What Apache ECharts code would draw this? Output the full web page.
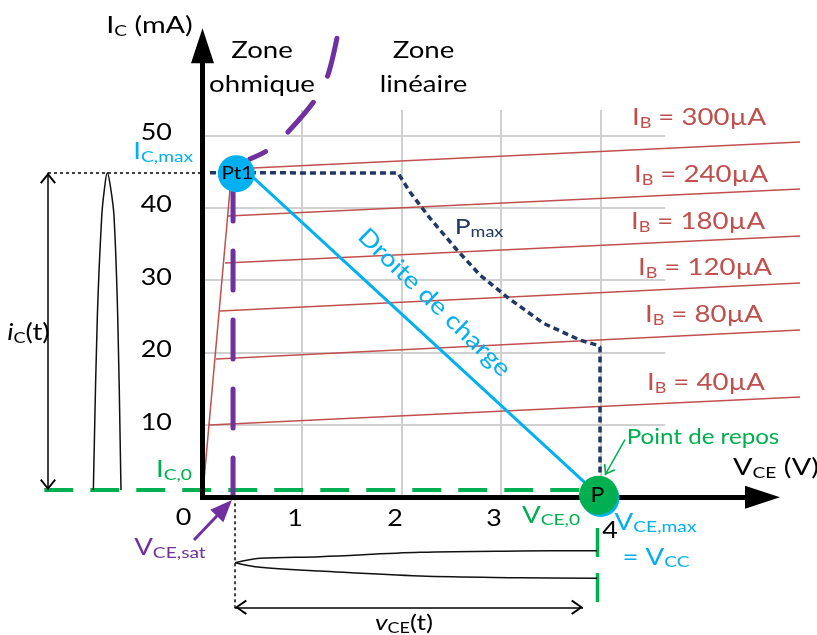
<!DOCTYPE html>
<html><head><meta charset="utf-8">
<script src="https://cdn.jsdelivr.net/npm/echarts@6/dist/echarts.min.js"></script>
<style>html,body{margin:0;padding:0;background:#fff}#c{width:817px;height:635px}</style>
</head><body><div id="c"></div>
<script>
// ================= DATA =================
// axis ticks (V and mA)
const xTicks = [0, 1, 2, 3, 4];
const xTickLabels = ['0', '1', '2', '3', '4'];
const yTicks = [10, 20, 30, 40, 50];
const yTickLabels = ['10', '20', '30', '40', '50'];
const gridXTop = 53.5;     // top of the vertical grid lines (mA)
const gridYRight = 4.65;   // right end of the horizontal grid lines (V)

// output characteristics IC = f(VCE) for each IB
const ibNames = ['300µA', '240µA', '180µA', '120µA', '80µA', '40µA'];
const ib300 = [[0.296, 45.35], [6.005, 49.07]];
const ib240 = [[0.256, 38.85], [6.005, 42.58]];
const ib180 = [[0.226, 32.36], [6.005, 36.09]];
const ib120 = [[0.176, 25.73], [6.005, 29.60]];
const ib80  = [[0.136, 19.10], [6.005, 23.11]];
const ib40  = [[0.065, 9.99],  [6.005, 13.85]];
const ohmicRamp = [[0, 0], [0.296, 45.48]];

// load line, operating points
const pt1 = [0.34, 44.7];
const quiescent = [3.98, 0.3];
const vceMaxPoint = [4.0, -0.1];
const loadLine = [[0.35, 46.2], [3.98, 0.3]];

// maximum power curve
const pmaxCurve = [[0.075, 44.83], [1.965, 44.79], [2.085, 42.17], [2.286, 38.56], [2.558, 34.16],
  [2.789, 30.70], [3.060, 27.67], [3.422, 24.07], [3.794, 21.72], [3.965, 21.03], [3.995, 20.75], [3.995, 3.36]];

// saturation / ohmic boundary (vertical part, then curved part)
const satVertical = [[0.307, 0.04], [0.307, 43.14]];
const satCurve = [[0.477, 46.73], [0.658, 47.97], [0.859, 50.46], [1.131, 54.88], [1.261, 58.34], [1.362, 64.14]];

// levels
const ic0 = 1.0;
const icMax = 44.83;
const vceSat = 0.327;
const vceMax = 3.97;

// collector current waveform ic(t) (drawn left of the axis)
const icSpike = [[-1.097, 1.01], [-1.057, 24.94], [-1.013, 38.76], [-0.987, 42.44], [-0.957, 44.83],
  [-0.920, 42.44], [-0.889, 38.76], [-0.852, 24.94], [-0.819, 1.01]];
// collector-emitter voltage waveform vce(t) (drawn below the axis)
const vceUpper = [[0.327, -9.03], [0.578, -8.43], [1.181, -8.20], [2.186, -7.60], [3.191, -7.42], [3.965, -7.38]];
const vceLower = [[0.327, -9.03], [0.578, -9.67], [1.181, -10.18], [2.186, -10.87], [3.191, -11.10], [3.965, -11.19]];

// ================= STYLE =================
const FONT = 'Lato';
const BLACK = '#000000', CYAN = '#00B0F0', GREEN = '#00B050', PURPLE = '#7030A0',
      RED = '#C0504D', NAVY = '#1F3864', GRID = '#D0D0D0';
const CHEVRON = 'path://M0,12 L10,0 L20,12 L18,13.6 L10,3.6 L2,13.6 Z';

function rich(color, f, sf) {
  const L = Math.round(f * 1.12);
  const h = L - 2 * Math.round(0.3 * f);
  return {
    m: { fontFamily: FONT, fontSize: f, fill: color, lineHeight: L },
    i: { fontFamily: FONT, fontSize: f, fill: color, lineHeight: L, fontStyle: 'italic' },
    s: { fontFamily: FONT, fontSize: sf, fill: color, lineHeight: h, verticalAlign: 'bottom' }
  };
}

// text annotations (anchor in data units, optional pixel offset)
const ibLabelPos = [[4.99, 52.39], [5.01, 44.52], [4.98, 38.02], [5.05, 31.67], [5.04, 25.18], [5.06, 15.79]];
const texts = [];
texts.push({ x: -0.533, y: 65.2, t: '{m|I}{s|C}{m| (mA)}', c: BLACK, f: 24, sf: 16 });
texts.push({ x: 0.598, y: 59.3, plain: 'Zone\nohmique', c: BLACK, f: 23, lh: 34 });
texts.push({ x: 2.221, y: 59.3, plain: 'Zone\nlinéaire', c: BLACK, f: 23, lh: 34 });
ibNames.forEach((n, k) => texts.push({ x: ibLabelPos[k][0], y: ibLabelPos[k][1], t: '{m|I}{s|B}{m| = ' + n + '}', c: RED, f: 23, sf: 15 }));
texts.push({ x: 2.779, y: 37.33, t: '{m|P}{s|max}', c: NAVY, f: 22, sf: 15 });
texts.push({ x: 2.33, y: 26.9, plain: 'Droite de charge', c: CYAN, f: 24, rot: -44, sx: 1.15 });
texts.push({ x: -0.095, y: 47.69, t: '{m|I}{s|C,max}', c: CYAN, f: 23, sf: 16, align: 'right' });
texts.push({ x: -0.106, y: 3.77, t: '{m|I}{s|C,0}', c: GREEN, f: 23, sf: 16, align: 'right' });
texts.push({ x: -1.749, y: 22.69, t: '{i|i}{s|C}{m|(t)}', c: BLACK, f: 23, sf: 15 });
texts.push({ x: -0.327, y: -7.0, t: '{m|V}{s|CE,sat}', c: PURPLE, f: 23, sf: 16 });
texts.push({ x: 5.764, y: 4.19, t: '{m|V}{s|CE}{m| (V)}', c: BLACK, f: 24, sf: 16 });
texts.push({ x: 5.03, y: 8.33, plain: 'Point de repos', c: GREEN, f: 21, sx: 1.15 });
texts.push({ x: 3.503, y: -2.46, t: '{m|V}{s|CE,0}', c: GREEN, f: 23, sf: 16 });
texts.push({ x: 4.553, y: -3.42, t: '{m|V}{s|CE,max}', c: CYAN, f: 23, sf: 16 });
texts.push({ x: 4.558, y: -8.26, t: '{m|= V}{s|CC}', c: CYAN, f: 23, sf: 16 });
texts.push({ x: 2.025, y: -17.38, t: '{i|v}{s|CE}{m|(t)}', c: BLACK, f: 22, sf: 15 });
texts.push({ x: pt1[0], y: pt1[1], dx: 1, dy: -1, plain: 'Pt1', c: BLACK, f: 18, sx: 1.15 });
texts.push({ x: quiescent[0], y: quiescent[1], dx: -1, dy: 0, plain: 'P', c: BLACK, f: 21, sx: 1.1 });
// tick labels
const xTickDx = [-19, -7, -6.5, -7, 9.5], xTickDy = [20, 21, 21, 21, 33];
xTicks.forEach((v, k) => texts.push({ x: v, y: 0, dx: xTickDx[k], dy: xTickDy[k], plain: xTickLabels[k], c: BLACK, f: 24, sx: 1.12 }));
yTicks.forEach((v, k) => texts.push({ x: -0.307, y: v, dy: -3, plain: yTickLabels[k], c: BLACK, f: 24, sx: 1.12, align: 'right' }));

// ================= BUILD =================
const seg = arr => arr.map(c => ({ coords: c }));
const gridSegs = xTicks.filter(v => v > 0).map(v => [[v, 0], [v, gridXTop]])
  .concat(yTicks.map(v => [[0, v], [gridYRight, v]]));

function linesSeries(data, color, width, type, z) {
  return { type: 'lines', coordinateSystem: 'cartesian2d', data: seg(data), silent: true, z: z,
    lineStyle: { color: color, width: width, type: type || 'solid', opacity: 1, curveness: 0 } };
}
function lineSeries(data, color, width, type, z, smooth, cap, dashOffset) {
  return { type: 'line', data: data, symbol: 'none', silent: true, z: z, smooth: smooth || false,
    clip: false, lineStyle: { color: color, width: width, type: type || 'solid', cap: cap || 'butt', dashOffset: dashOffset || 0 } };
}

const arrowHeads = [
  { value: [0, 62.36], symbol: 'triangle', symbolSize: [23, 35], symbolRotate: 0, itemStyle: { color: BLACK } },
  { value: [5.628, 0], symbol: 'triangle', symbolSize: [23, 35], symbolRotate: -90, itemStyle: { color: BLACK } },
  { value: [0.22, -1.48], symbol: 'triangle', symbolSize: [18, 22], symbolRotate: -43.5, itemStyle: { color: PURPLE } },
  { value: [-1.553, icMax - 0.76], symbol: CHEVRON, symbolSize: [16, 11], symbolRotate: 0, itemStyle: { color: BLACK } },
  { value: [-1.553, ic0 + 0.76], symbol: CHEVRON, symbolSize: [16, 11], symbolRotate: 180, itemStyle: { color: BLACK } },
  { value: [vceSat + 0.06, -15.19], symbol: CHEVRON, symbolSize: [15, 12], symbolRotate: 90, itemStyle: { color: BLACK } },
  { value: [3.764, -15.19], symbol: CHEVRON, symbolSize: [15, 12], symbolRotate: -90, itemStyle: { color: BLACK } },
  { value: [4.07, 3.67], symbol: CHEVRON, symbolSize: [13, 10], symbolRotate: 150, itemStyle: { color: GREEN } }
];

const option = {
  animation: false,
  backgroundColor: '#ffffff',
  grid: { left: 3.5, right: 7.55, top: 5.0, bottom: 7.36, containLabel: false },
  xAxis: { type: 'value', min: -2, max: 6.1, show: false },
  yAxis: { type: 'value', min: -18, max: 68, show: false },
  series: [
    linesSeries(gridSegs, GRID, 2, 'solid', 1),
    linesSeries([ohmicRamp, ib300, ib240, ib180, ib120, ib80, ib40], RED, 1.5, 'solid', 2),
    lineSeries([[-1.59, ic0], [3.8, ic0]], GREEN, 4, [29, 17], 3),
    lineSeries([[vceMax, -4.24], [vceMax, -14.6]], GREEN, 3.5, [29, 16], 3),
    lineSeries(pmaxCurve, NAVY, 3.5, [6, 4], 4),
    linesSeries([[[-1.553, icMax], [0, icMax]], [[vceSat, 0], [vceSat, -15.57]]], BLACK, 1.5, [3, 3], 4),
    linesSeries([loadLine], CYAN, 3, 'solid', 5),
    lineSeries(satVertical, PURPLE, 5, [39, 30], 6, false, 'round'),
    lineSeries(satCurve, PURPLE, 5, [39, 30], 6, 0.3, 'round', 22),
    linesSeries([[[-1.553, ic0], [-1.553, icMax]], [[vceSat, -15.19], [3.824, -15.19]]], BLACK, 1.5, 'solid', 6),
    linesSeries([[[-0.085, -5.9], [0.22, -1.48]]], PURPLE, 3, 'solid', 6),
    linesSeries([[[4.246, 7.97], [4.045, 3.07]]], GREEN, 1.5, 'solid', 6),
    lineSeries(icSpike, '#111111', 1.5, 'solid', 6, 0.35),
    lineSeries(vceUpper, '#111111', 1.5, 'solid', 6, 0.35),
    lineSeries(vceLower, '#111111', 1.5, 'solid', 6, 0.35),
    linesSeries([[[-0.025, 0], [5.628, 0]], [[0, -0.37], [0, 62.36]]], BLACK, 5, 'solid', 8),
    { type: 'scatter', data: arrowHeads, silent: true, z: 9, itemStyle: { opacity: 1 } },
    { type: 'scatter', silent: true, z: 10, itemStyle: { opacity: 1 },
      data: [
        { value: vceMaxPoint, symbolSize: 38, itemStyle: { color: CYAN, opacity: 1 } },
        { value: quiescent, symbolSize: 39, itemStyle: { color: GREEN, opacity: 1 } },
        { value: pt1, symbolSize: 37, itemStyle: { color: CYAN, opacity: 1 } }
      ] },
    { type: 'custom', coordinateSystem: 'cartesian2d', silent: true, z: 30, clip: false,
      data: texts.map(t => [t.x, t.y]),
      renderItem: function (params, api) {
        const a = texts[params.dataIndex];
        const p = api.coord([a.x, a.y]);
        const style = { align: a.align || 'center', verticalAlign: 'middle',
          fontFamily: FONT, fontSize: a.f, fill: a.c };
        if (a.plain !== undefined) { style.text = a.plain; if (a.lh) style.lineHeight = a.lh; }
        else { style.text = a.t; style.rich = rich(a.c, a.f, a.sf); }
        return { type: 'text', x: p[0] + (a.dx || 0), y: p[1] + (a.dy || 0),
          rotation: (a.rot || 0) * Math.PI / 180, scaleX: a.sx || 1.2, scaleY: 1, style: style };
      } }
  ]
};
const chart = echarts.init(document.getElementById('c'));
chart.setOption(option);
</script>
</body></html>
